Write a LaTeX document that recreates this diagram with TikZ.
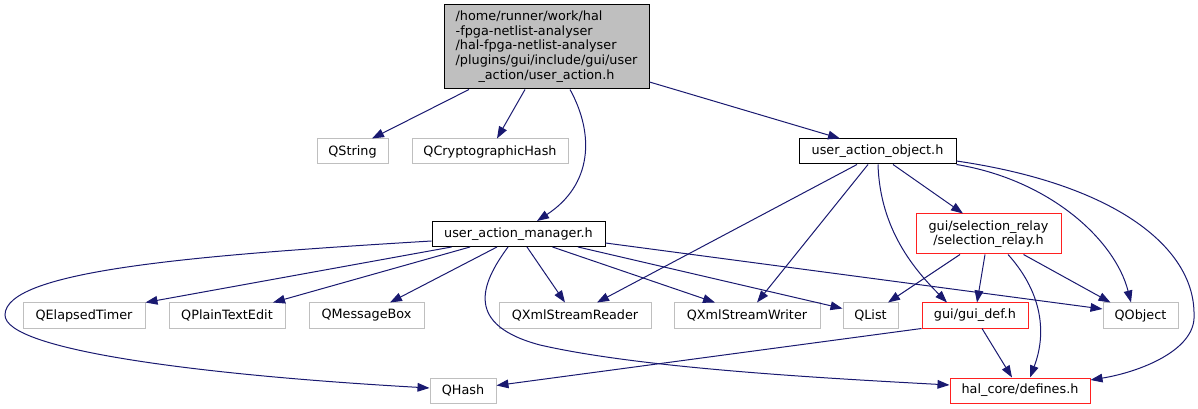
\documentclass[tikz,border=0pt]{standalone}
\usepackage{fontspec}
\setmainfont{DejaVu Sans}
\usetikzlibrary{arrows.meta,calc}
\definecolor{EdgeBlue}{HTML}{191970}
\definecolor{BoxGray}{HTML}{BFBFBF}
\definecolor{TruncRed}{HTML}{FF2020}

\begin{document}
\begin{tikzpicture}[
  x=0.75pt,y=-0.75pt,
  box/.style={rectangle,inner sep=0pt,line width=0.75pt,fill=white,
              minimum height=18.75pt,font=\fontsize{9.6}{11}\selectfont},
  boxw/.style={minimum width=#1*0.75pt},
  hdr/.style={box,draw=black},
  ext/.style={box,draw=BoxGray},
  trunc/.style={box,draw=TruncRed},
  mainbox/.style={box,draw=black,fill=BoxGray,minimum height=63pt},
  dep/.style={draw=EdgeBlue,line width=0.75pt,-{Triangle[length=9pt,width=6.5pt]}}
]
\useasboundingbox (0,0) rectangle (1198,409);

\node[mainbox,boxw=205] (main) at (546.5,47)
  {\begin{tabular}{@{}l@{}}/home/runner/work/hal\\-fpga-netlist-analyser\\/hal-fpga-netlist-analyser\\/plugins/gui/include/gui/user\\\multicolumn{1}{@{}c@{}}{\_action/user\_action.h\hspace{8pt}}\end{tabular}};
\node[ext,boxw=71] (qstring) at (352.5,151.5) {QString};
\node[ext,boxw=156] (qcrypto) at (490,151.5) {QCryptographicHash};
\node[hdr,boxw=157] (uao) at (877.5,151.5) {user\_action\_object.h};
\node[hdr,boxw=173] (uam) at (518.5,234) {user\_action\_manager.h};
\node[trunc,boxw=145,minimum height=30pt,align=center] (selrel) at (988.5,234)
  {gui/selection\_relay\\/selection\_relay.h};
\node[ext,boxw=122] (qelapsed) at (84,315.5) {QElapsedTimer};
\node[ext,boxw=116] (qplain) at (227,315.5) {QPlainTextEdit};
\node[ext,boxw=115] (qmsgbox) at (366.5,315.5) {QMessageBox};
\node[ext,boxw=152] (qxmlreader) at (575,315.5) {QXmlStreamReader};
\node[ext,boxw=146] (qxmlwriter) at (747,315.5) {QXmlStreamWriter};
\node[ext,boxw=55] (qlist) at (870.5,315.5) {QList};
\node[trunc,boxw=106] (guidef) at (975,315.5) {gui/gui\_def.h};
\node[ext,boxw=75] (qobject) at (1140.5,315.5) {QObject};
\node[ext,boxw=66] (qhash) at (463,390.5) {QHash};
\node[trunc,boxw=140] (defines) at (1020,390.5) {hal\_core/defines.h};

% user_action.h
\draw[dep] ($(main.south)+(-77.5,0)$) -- ($(qstring.north)+(19.5,0)$);
\draw[dep] ($(main.south)+(-21.5,0)$) -- ($(qcrypto.north)+(7,0)$);
\draw[dep] ($(main.south)+(23.5,0)$) .. controls (595,135) and (592,185) .. ($(uam.north)+(18.5,0)$);
\draw[dep] ($(main.east)+(0,35)$) -- ($(uao.north)+(-37.5,0)$);

% user_action_object.h
\draw[dep] ($(uao.south)+(-20.5,0)$) -- ($(qxmlreader.north)+(22,0)$);
\draw[dep] ($(uao.south)+(-9.5,0)$) -- ($(qxmlwriter.north)+(10,0)$);
\draw[dep] ($(uao.south)+(0.5,0)$) .. controls (880,230) and (915,270) .. ($(guidef.north)+(-28,0)$);
\draw[dep] ($(uao.south)+(15.5,0)$) -- ($(selrel.north)+(-25.5,0)$);
\draw[dep] (uao.south east) .. controls (1050,180) and (1115,240) .. ($(qobject.north)+(-9.5,0)$);
\draw[dep] ($(uao.east)+(0,9.5)$) .. controls (1120,185) and (1195,250) .. (1194,315)
  .. controls (1196,350) and (1140,372) .. ($(defines.east)+(0,-10.5)$);

% user_action_manager.h
\draw[dep] ($(uam.west)+(0,7)$) .. controls (200,255) and (5,270) .. (5,315)
  .. controls (5,350) and (200,375) .. ($(qhash.west)+(0,-2.5)$);
\draw[dep] ($(uam.south west)+(20,0)$) -- (qelapsed.north east);
\draw[dep] ($(uam.south)+(-48.5,0)$) -- ($(qplain.north)+(46,0)$);
\draw[dep] ($(uam.south)+(-21.5,0)$) -- ($(qmsgbox.north)+(23.5,0)$);
\draw[dep] ($(uam.south)+(-10.5,0)$) .. controls (480,285) and (465,325) .. (540,345)
  .. controls (640,368) and (820,378) .. ($(defines.west)+(0,-5.5)$);
\draw[dep] ($(uam.south)+(8.5,0)$) -- ($(qxmlreader.north)+(-10,0)$);
\draw[dep] ($(uam.south)+(34,0)$) -- ($(qxmlwriter.north)+(-32,0)$);
\draw[dep] ($(uam.south)+(59.5,0)$) -- ($(qlist.west)+(0,-7)$);
\draw[dep] ($(uam.east)+(0,9)$) -- ($(qobject.west)+(0,-6.5)$);

% selection_relay.h
\draw[dep] ($(selrel.south)+(-28.5,0)$) -- ($(qlist.north)+(17.5,0)$);
\draw[dep] ($(selrel.south)+(-3.5,0)$) -- ($(guidef.north)+(2,0)$);
\draw[dep] ($(selrel.south)+(19.5,0)$) .. controls (1040,290) and (1048,330) .. ($(defines.north)+(10,0)$);
\draw[dep] ($(selrel.south)+(35,0)$) -- ($(qobject.north)+(-30,0)$);

% gui_def.h
\draw[dep] (guidef.south west) -- ($(qhash.east)+(0,-5)$);
\draw[dep] ($(guidef.south)+(7,0)$) -- ($(defines.north)+(-8,0)$);
\end{tikzpicture}
\end{document}
